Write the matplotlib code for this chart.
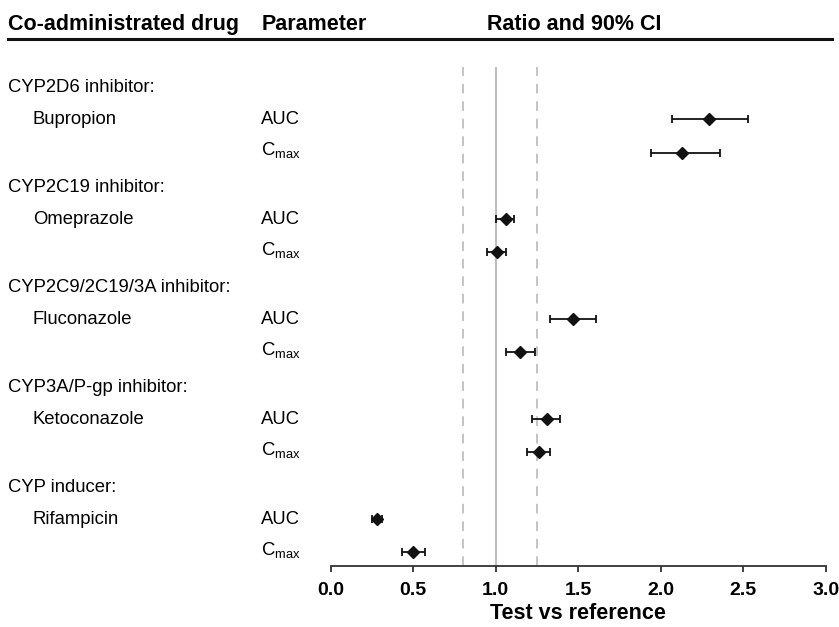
import matplotlib
matplotlib.use("Agg")
import matplotlib.pyplot as plt
import matplotlib.transforms as mtransforms
from matplotlib.lines import Line2D

plt.rcParams['font.family'] = ['Liberation Sans', 'DejaVu Sans']
plt.rcParams['mathtext.fontset'] = 'custom'
plt.rcParams['mathtext.rm'] = 'Liberation Sans'
plt.rcParams['mathtext.it'] = 'Liberation Sans:italic'
plt.rcParams['mathtext.bf'] = 'Liberation Sans:bold'

# ---- data ----
groups = ["CYP2D6 inhibitor:", "CYP2C19 inhibitor:", "CYP2C9/2C19/3A inhibitor:",
          "CYP3A/P-gp inhibitor:", "CYP inducer:"]
drugs = ["Bupropion", "Omeprazole", "Fluconazole", "Ketoconazole", "Rifampicin"]
params = ["AUC", r"C$_{\mathrm{max}}$"]

ratio_auc = [2.29, 1.06, 1.47, 1.31, 0.28]
lo_auc = [2.07, 1.00, 1.33, 1.22, 0.25]
hi_auc = [2.53, 1.11, 1.61, 1.39, 0.31]

ratio_cmax = [2.13, 1.01, 1.15, 1.26, 0.50]
lo_cmax = [1.94, 0.95, 1.06, 1.19, 0.43]
hi_cmax = [2.36, 1.06, 1.24, 1.33, 0.57]

ref_line = 1.0
bounds = [0.8, 1.25]
xticks = [0.0, 0.5, 1.0, 1.5, 2.0, 2.5, 3.0]
xticklabels = ["0.0", "0.5", "1.0", "1.5", "2.0", "2.5", "3.0"]

# ---- figure ----
W, H = 839, 627
fig = plt.figure(figsize=(W / 100, H / 100), dpi=100)
ax_left, ax_right = 330.7, 825.7
ax_top, ax_bot = 66.7, 565.7
ax = fig.add_axes([ax_left / W, 1 - ax_bot / H, (ax_right - ax_left) / W, (ax_bot - ax_top) / H])

row0_px, row_step = 86.0, 33.3
ax.set_ylim((ax_bot - row0_px) / row_step, (ax_top - row0_px) / row_step)
ax.set_xlim(0, 3)

# reference lines
ax.axvline(ref_line, color='#bdbdbd', lw=1.4, zorder=1)
for b in bounds:
    ax.axvline(b, color='#c4c4c4', lw=1.4, dashes=(5, 4), zorder=1)

# rows
trans = mtransforms.blended_transform_factory(fig.transFigure, ax.transData)
fs = 13.3
for g in range(len(groups)):
    r_head = 3 * g
    r_auc = 3 * g + 1
    r_cmax = 3 * g + 2
    ax.text(8 / W, r_head, groups[g], transform=trans, fontsize=fs,
            va='center_baseline', ha='left', clip_on=False)
    ax.text(33 / W, r_auc - 0.05, drugs[g], transform=trans, fontsize=fs,
            va='center_baseline', ha='left', clip_on=False)
    ax.text(261 / W, r_auc - 0.05, params[0], transform=trans, fontsize=fs,
            va='center_baseline', ha='left', clip_on=False)
    ax.text(261 / W, r_cmax - 0.15, params[1], transform=trans, fontsize=fs,
            va='center_baseline', ha='left', clip_on=False)
    for r, v, lo, hi in [(r_auc, ratio_auc[g], lo_auc[g], hi_auc[g]),
                         (r_cmax, ratio_cmax[g], lo_cmax[g], hi_cmax[g])]:
        ax.errorbar([v], [r], xerr=[[v - lo], [hi - v]], fmt='D', color='#111111',
                    ms=6.5, ecolor='#111111', elinewidth=1.3, capsize=3.2,
                    capthick=1.3, zorder=3)

# axes styling
for s in ['top', 'right', 'left']:
    ax.spines[s].set_visible(False)
ax.spines['bottom'].set_bounds(0, 3)
ax.spines['bottom'].set_linewidth(1.3)
ax.spines['bottom'].set_color('#333333')
ax.set_yticks([])
ax.set_xticks(xticks)
ax.set_xticklabels(xticklabels, fontsize=14, fontweight='bold')
ax.tick_params(axis='x', length=4.5, width=1.3, color='#333333', pad=7)
ax.set_xlabel("Test vs reference", fontsize=15.5, fontweight='bold', labelpad=3)

# header
hy = 1 - 30 / H
fig.text(8 / W, hy, "Co-administrated drug", fontsize=15.5, fontweight='bold', va='baseline')
fig.text(262 / W, hy, "Parameter", fontsize=15.5, fontweight='bold', va='baseline')
fig.text(487 / W, hy, "Ratio and 90% CI", fontsize=15.5, fontweight='bold', va='baseline')
fig.add_artist(Line2D([8 / W, 832 / W], [1 - 39 / H, 1 - 39 / H], color='#111111', lw=2.2,
                      transform=fig.transFigure))

fig.savefig("out.png", dpi=100)
